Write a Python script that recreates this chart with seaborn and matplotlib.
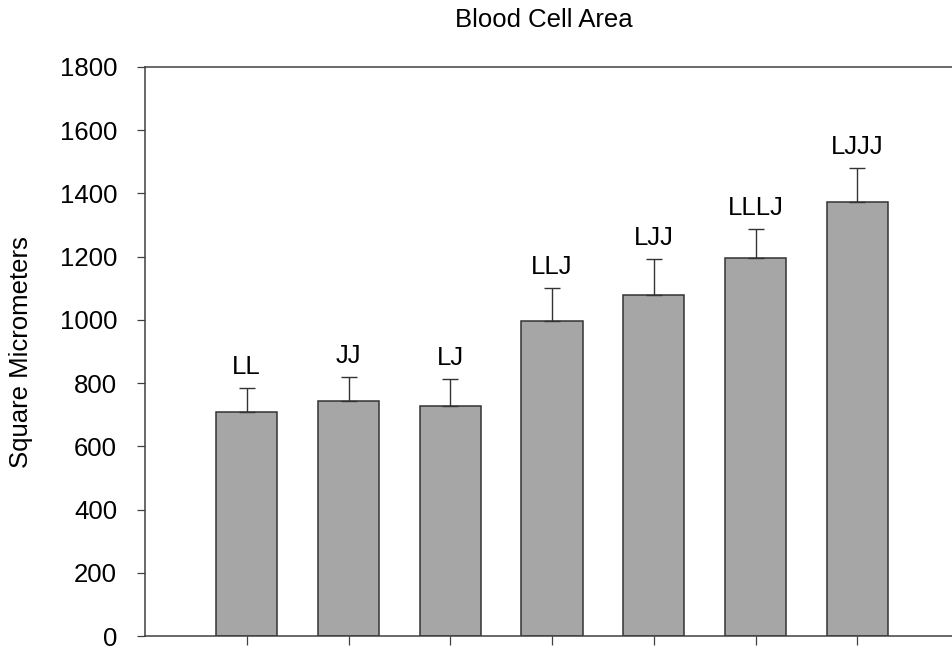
import numpy as np
import pandas as pd
import matplotlib
matplotlib.use("Agg")
import matplotlib.pyplot as plt
import seaborn as sns

# Values
groups = ["LL", "JJ", "LJ", "LLJ", "LJJ", "LLLJ", "LJJJ"]
mean_area = [710, 743, 729, 998, 1078, 1195, 1374]
err_area = [74, 76, 83, 103, 115, 92, 107]
y_ticks = [0, 200, 400, 600, 800, 1000, 1200, 1400, 1600, 1800]

df = pd.DataFrame({"group": groups, "area": mean_area, "err": err_area})

sns.set_style("white")
plt.rcParams["font.family"] = ["Liberation Sans", "DejaVu Sans"]
plt.rcParams["text.color"] = "black"
plt.rcParams["xtick.labelcolor"] = "black"
plt.rcParams["ytick.labelcolor"] = "black"

fig = plt.figure(figsize=(9.52, 6.5), dpi=100)
# axes run past the right edge of the figure like the cropped original
ax = fig.add_axes([145 / 952, 1 - 636 / 650, 814 / 952, 569 / 650])

sns.barplot(data=df, x="group", y="area", order=groups, color="#a6a6a6",
            saturation=1, width=0.6, edgecolor="#333333", linewidth=1.1,
            errorbar=None, ax=ax)

# upper error bars only
ax.errorbar(np.arange(len(groups)), df["area"],
            yerr=[np.zeros(len(groups)), df["err"]],
            fmt="none", ecolor="#333333", elinewidth=1.0, capsize=6,
            capthick=1.0, zorder=3)

# group labels above the error bars
for i, row in df.iterrows():
    ax.annotate(row["group"], (i, row["area"] + row["err"]),
                xytext=(0, 10), textcoords="offset points",
                ha="center", va="baseline", fontsize=18.5, color="black")

ax.set_xlim(-1, 7)
ax.set_ylim(0, 1800)
ax.set_yticks(y_ticks)
ax.set_xticks(range(len(groups)))
ax.set_xticklabels([])
ax.set_xlabel("")
ax.set_ylabel("")

for side in ["left", "bottom", "top"]:
    ax.spines[side].set_visible(True)
    ax.spines[side].set_color("#404040")
    ax.spines[side].set_linewidth(1.1)
ax.spines["right"].set_visible(False)

ax.tick_params(axis="y", direction="out", length=6, width=0.9,
               color="#404040", labelsize=18.5, labelcolor="black",
               pad=14, left=True)
ax.tick_params(axis="x", direction="out", length=6.5, width=0.9,
               color="#404040", bottom=True)

fig.text(544 / 952, 1 - 20 / 650, "Blood Cell Area", ha="center",
         va="center", fontsize=18.5, color="black")
fig.text(21 / 952, 1 - 352 / 650, "Square Micrometers", rotation=90,
         ha="center", va="center", fontsize=18.5, color="black")

fig.savefig("out.png", dpi=100)
